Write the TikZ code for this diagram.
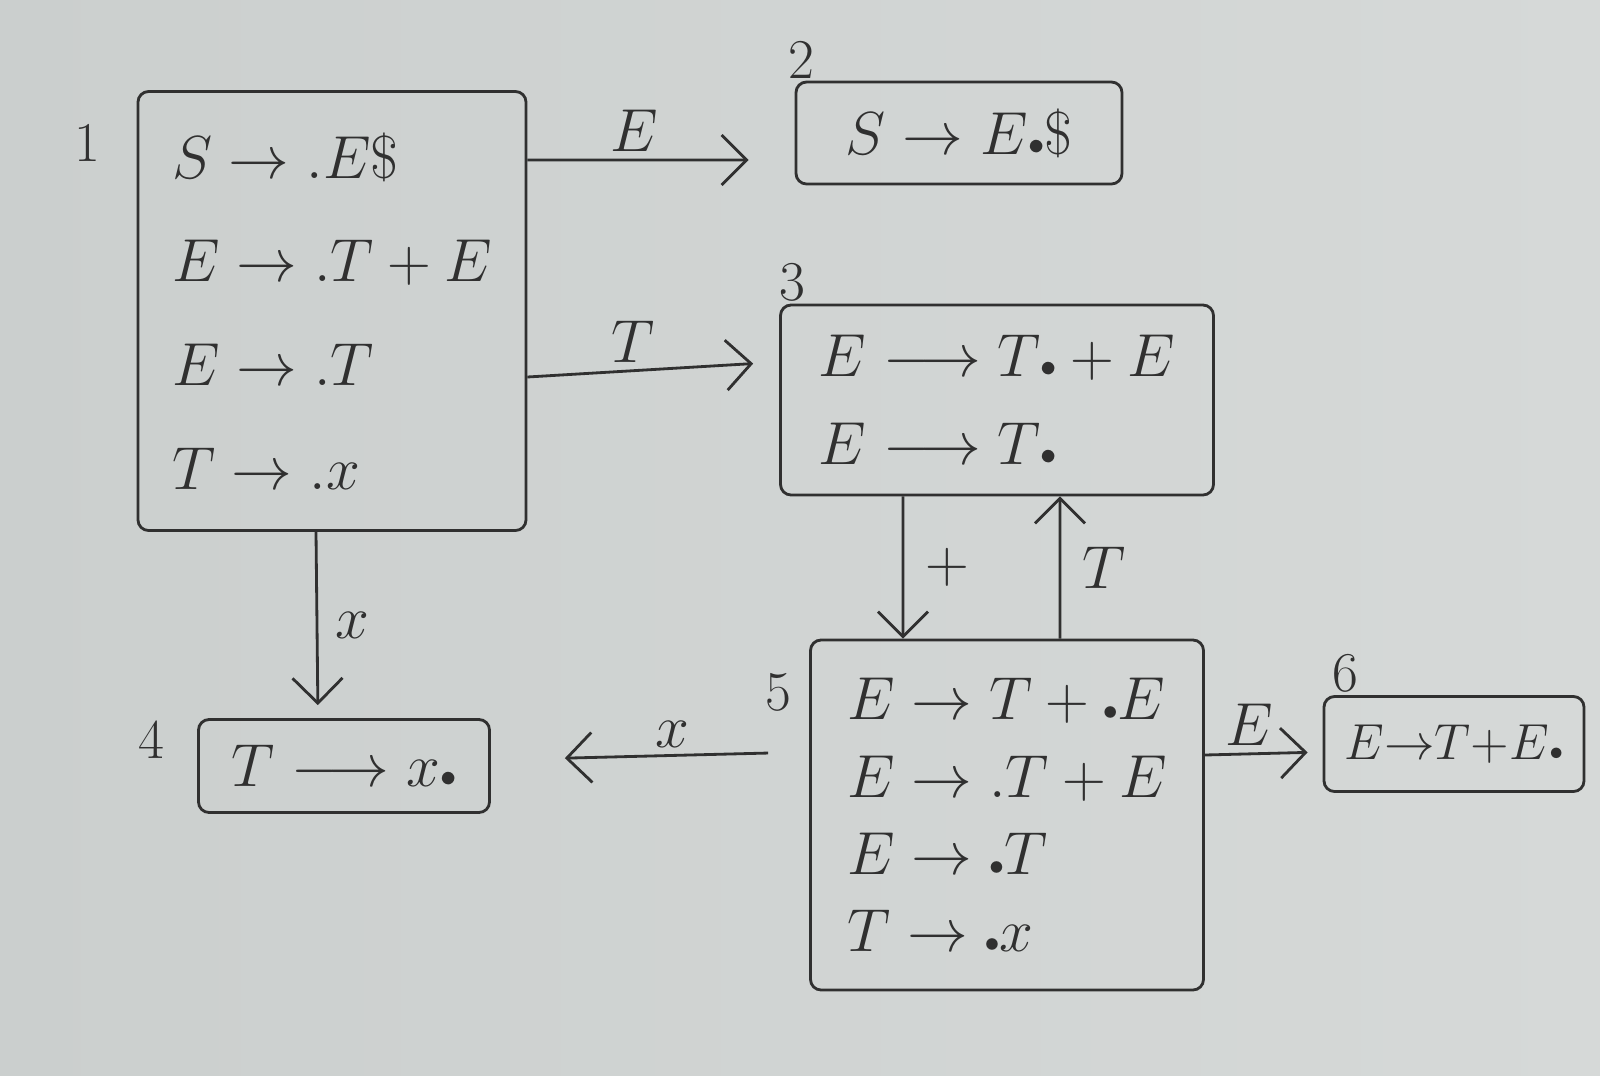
\documentclass[tikz,border=0pt]{standalone}
\usepackage{amsmath}
\usetikzlibrary{arrows.meta}
\definecolor{paper}{RGB}{203,207,206}
\definecolor{paperlight}{RGB}{214,217,216}
\definecolor{pencil}{RGB}{48,48,48}
\newcommand{\itemdot}{\mathord{\scriptscriptstyle\bullet}}

\begin{document}
\begin{tikzpicture}[x=0.1mm, y=-0.1mm,
    every node/.style={text=pencil},
    state/.style={draw=pencil, line width=0.8pt, rounded corners=3pt, align=left, inner sep=0pt},
    statenum/.style={font=\fontsize{16}{16}\selectfont},
    sym/.style={font=\fontsize{17}{17}\selectfont, inner sep=2pt},
    trans/.style={draw=pencil, line width=0.8pt, -{Straight Barb[length=2.5mm,width=5mm]}}]
        \shade[left color=paper, right color=paperlight] (0,0) rectangle (1600,1075);

        % item sets
        \node[state, minimum width=38.8mm, minimum height=43.9mm, font=\fontsize{17}{29.5}\selectfont] (b1) at (332,311)
            {$S \rightarrow .E\$$\\ $E \rightarrow .T + E$\\ $E \rightarrow .T$\\ $T \rightarrow .x$};
        \node[state, minimum width=32.6mm, minimum height=10.2mm, font=\fontsize{19}{24}\selectfont] (b2) at (959,133)
            {$S \rightarrow E\itemdot\$$};
        \node[state, minimum width=43.3mm, minimum height=19mm, font=\fontsize{18}{25}\selectfont] (b3) at (997,400)
            {$E \longrightarrow T\itemdot + E$\\ $E \longrightarrow T\itemdot$};
        \node[state, minimum width=29.1mm, minimum height=9.3mm, font=\fontsize{19}{24}\selectfont] (b4) at (344,766)
            {$T \longrightarrow x\itemdot$};
        \node[state, minimum width=39.3mm, minimum height=35mm, font=\fontsize{16}{22}\selectfont] (b5) at (1007,815)
            {$E \rightarrow T + \itemdot E$\\ $E \rightarrow .T + E$\\ $E \rightarrow \itemdot T$\\ $T \rightarrow \itemdot x$};
        \node[state, minimum width=26mm, minimum height=9.5mm, font=\fontsize{15}{20}\selectfont] (b6) at (1454,744)
            {$E{\rightarrow}T{+}E\itemdot$};

        % state numbers
        \node[statenum] (n1) at (87,143) {1};
        \node[statenum] (n2) at (801,60) {2};
        \node[statenum] (n3) at (792,282) {3};
        \node[statenum] (n4) at (151,740) {4};
        \node[statenum] (n5) at (778,692) {5};
        \node[statenum] (n6) at (1345,673) {6};

        % transitions
        \draw[trans, shorten >=4.6mm] ([yshift=15.1mm]b1.east) -- ([yshift=-2.7mm]b2.west) node[sym, pos=0.4, above] {$E$};
        \draw[trans, shorten >=2.6mm] ([yshift=-6.6mm]b1.east) -- ([yshift=3.8mm]b3.west) node[sym, pos=0.42, above] {$T$};
        \draw[trans, shorten >=1.3mm] ([xshift=-1.6mm]b1.south) -- ([xshift=-2.6mm]b4.north) node[sym, midway, right, inner sep=5pt] {$x$};
        \draw[trans] ([xshift=-9.4mm]b3.south) -- ([xshift=-10.4mm]b5.north) node[sym, midway, right, inner sep=6pt] {$+$};
        \draw[trans] ([xshift=5.3mm]b5.north) -- ([xshift=6.3mm]b3.south) node[sym, midway, right, inner sep=6pt] {$T$};
        \draw[trans, shorten <=4.1mm, shorten >=7.4mm] ([yshift=6.3mm]b5.west) -- ([yshift=0.6mm]b4.east) node[sym, pos=0.43, above] {$x$};
        \draw[trans, shorten >=1.5mm] ([yshift=6mm]b5.east) -- ([yshift=-0.8mm]b6.west) node[sym, pos=0.38, above] {$E$};
\end{tikzpicture}
\end{document}
